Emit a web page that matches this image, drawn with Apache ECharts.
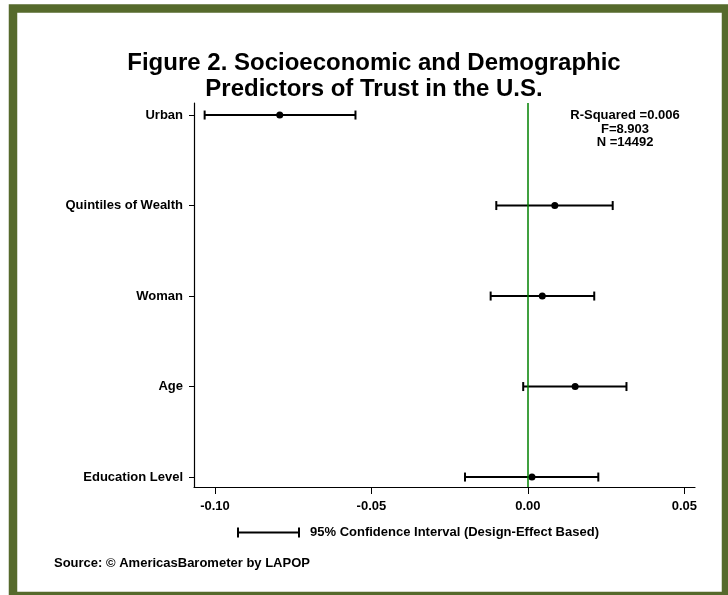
<!DOCTYPE html>
<html>
<head>
<meta charset="utf-8">
<script src="https://cdn.jsdelivr.net/npm/echarts@6/dist/echarts.min.js"></script>
<style>
  html, body { margin: 0; padding: 0; background: #fff; }
  #chart { width: 728px; height: 595px; }
</style>
</head>
<body>
<div id="chart"></div>
<script>
// predictors, top to bottom
const categories = ['Urban', 'Quintiles of Wealth', 'Woman', 'Age', 'Education Level'];
const coefs = [-0.0793, 0.0086, 0.0046, 0.0151, 0.0013];
const lower = [-0.1033, -0.0101, -0.0119, -0.0015, -0.0201];
const upper = [-0.0551, 0.0271, 0.0212, 0.0315, 0.0225];
const xTicks = [-0.10, -0.05, 0.00, 0.05];
const statsLines = ['R-Squared =0.006', 'F=8.903', 'N =14492'];
const ciName = '95% Confidence Interval (Design-Effect Based)';

const font = 'Liberation Sans, Arial, sans-serif';
const chart = echarts.init(document.getElementById('chart'));

const ciData = categories.map((c, i) => [i + 1, lower[i], upper[i]]);
const pointData = categories.map((c, i) => [coefs[i], i + 1]);

const option = {
  backgroundColor: '#fff',
  textStyle: { fontFamily: font },
  title: [
    {
      text: 'Figure 2. Socioeconomic and Demographic\nPredictors of Trust in the U.S.',
      left: 374, top: 51, textAlign: 'center', padding: 0,
      textStyle: { fontSize: 24, fontWeight: 'bold', color: '#000', lineHeight: 25.5, fontFamily: font }
    },
    {
      text: statsLines.join('\n'),
      left: 625, top: 109, textAlign: 'center', padding: 0,
      textStyle: { fontSize: 13, fontWeight: 'bold', color: '#000', lineHeight: 13.5, fontFamily: font }
    },
    {
      text: 'Source: © AmericasBarometer by LAPOP',
      left: 54, top: 557, padding: 0,
      textStyle: { fontSize: 13, fontWeight: 'bold', color: '#000', fontFamily: font }
    }
  ],
  legend: {
    data: [{ name: ciName, icon: 'path://M0,0h2v10h-2zM0,4h63v2h-63zM61,0h2v10h-2z' }],
    left: 237, top: 526, padding: 0,
    itemWidth: 63, itemHeight: 10, itemGap: 10,
    selectedMode: false,
    textStyle: { fontSize: 13, fontWeight: 'bold', color: '#000', fontFamily: font, padding: [0, 0, 0, 5] }
  },
  grid: { left: 194, right: 33, top: 103, bottom: 108 },
  xAxis: {
    type: 'value',
    min: -0.1067, max: 0.0534,
    splitLine: { show: false },
    axisLine: { onZero: false, lineStyle: { color: '#000', width: 1.2 } },
    axisTick: { show: true, length: 7, lineStyle: { color: '#000' }, customValues: xTicks },
    axisLabel: {
      customValues: xTicks, margin: 13,
      fontSize: 13, fontWeight: 'bold', color: '#000', fontFamily: font,
      formatter: v => v.toFixed(2)
    }
  },
  yAxis: {
    type: 'value',
    inverse: true,
    min: 0.867, max: 5.11,
    splitLine: { show: false },
    axisLine: { show: true, onZero: false, lineStyle: { color: '#000', width: 1.2 } },
    axisTick: { show: true, length: 5, lineStyle: { color: '#000' }, customValues: [1, 2, 3, 4, 5] },
    axisLabel: {
      customValues: [1, 2, 3, 4, 5], margin: 11,
      fontSize: 13, fontWeight: 'bold', color: '#000', fontFamily: font,
      formatter: v => categories[Math.round(v) - 1]
    }
  },
  graphic: [
    {
      type: 'rect', silent: true, z: 100,
      shape: { x: 13, y: 8.5, width: 713, height: 587.5 },
      style: { fill: 'none', stroke: '#566a2c', lineWidth: 8.5 }
    }
  ],
  series: [
    {
      name: ciName,
      type: 'custom',
      z: 2,
      itemStyle: { color: '#000' },
      renderItem: function (params, api) {
        const y = api.value(0);
        const a = api.coord([api.value(1), y]);
        const b = api.coord([api.value(2), y]);
        const h = 4.5;
        const st = { stroke: '#000', lineWidth: 2 };
        return {
          type: 'group',
          children: [
            { type: 'line', shape: { x1: a[0], y1: a[1], x2: b[0], y2: b[1] }, style: st },
            { type: 'line', shape: { x1: a[0], y1: a[1] - h, x2: a[0], y2: a[1] + h }, style: st },
            { type: 'line', shape: { x1: b[0], y1: b[1] - h, x2: b[0], y2: b[1] + h }, style: st }
          ]
        };
      },
      data: ciData
    },
    {
      name: 'zero',
      type: 'scatter',
      z: 3,
      data: [],
      markLine: {
        silent: true,
        symbol: 'none',
        label: { show: false },
        lineStyle: { color: '#008000', width: 1.5, type: 'solid' },
        data: [{ xAxis: 0 }]
      }
    },
    {
      name: 'coef',
      type: 'scatter',
      z: 4,
      symbol: 'circle',
      symbolSize: 7,
      itemStyle: { color: '#000', opacity: 1 },
      data: pointData
    }
  ]
};

chart.setOption(option);
</script>
</body>
</html>
